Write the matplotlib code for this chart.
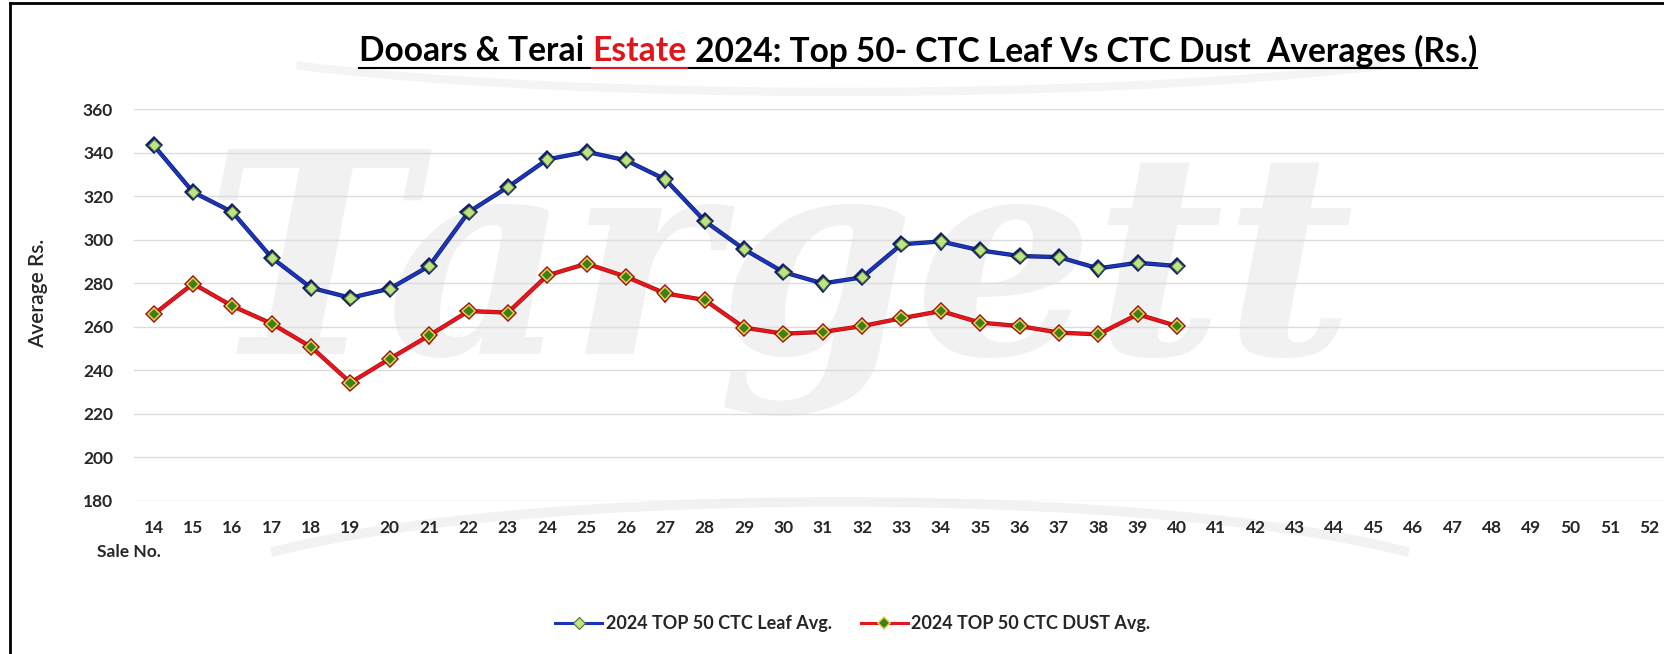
import matplotlib
matplotlib.use("Agg")
import matplotlib.pyplot as plt
import matplotlib.patheffects as pe
from matplotlib.lines import Line2D
from matplotlib.patches import Arc

# ---------------- data ----------------
sale_labels = [str(s) for s in range(14, 53)]
leaf_avg = [343.5, 322.0, 312.8, 291.8, 278.0, 273.4, 277.6, 288.0, 312.8, 324.3,
            337.0, 340.5, 336.6, 327.8, 308.7, 295.7, 285.2, 280.0, 282.8, 298.0,
            299.3, 295.2, 292.6, 292.1, 286.9, 289.5, 288.0]
dust_avg = [265.8, 279.9, 269.6, 261.5, 250.8, 234.4, 245.4, 256.1, 267.3, 266.6,
            283.7, 289.1, 283.1, 275.4, 272.4, 259.7, 256.9, 257.7, 260.4, 264.0,
            267.3, 262.0, 260.4, 257.4, 256.6, 265.8, 260.4]
yticks = [180, 200, 220, 240, 260, 280, 300, 320, 340, 360]
leaf_name = "2024 TOP 50 CTC Leaf Avg."
dust_name = "2024 TOP 50 CTC DUST Avg."

W, H = 1665, 654
FONT = "Lato"
plt.rcParams['font.family'] = [FONT, 'DejaVu Sans']

fig = plt.figure(figsize=(W / 100, H / 100), dpi=100)
fig.patch.set_facecolor("white")

def fx(px):
    return px / W

def fy(py):
    return 1 - py / H

# ---------------- watermark (drawn below everything) ----------------
wm = fig.text(fx(780), fy(280), "Targett", fontsize=200, family="DejaVu Serif",
              style="italic", weight="bold", color="#f1f1f1", ha="center",
              va="center", zorder=-5)
fig.canvas.draw()
r = fig.canvas.get_renderer()
bb = wm.get_window_extent(r)
wm.set_fontsize(200 * 1150 / bb.width)
fig.patches.append(Arc((fx(840), fy(600)), fx(1300), 0.30, theta1=12, theta2=168,
                       transform=fig.transFigure, color="#f2f2f2", lw=7, zorder=-5))
fig.patches.append(Arc((fx(840), fy(20)), fx(1400), 0.22, theta1=192, theta2=348,
                       transform=fig.transFigure, color="#f4f4f4", lw=6, zorder=-5))

# ---------------- axes ----------------
ax_left, ax_right = 134, 1669
ax_top, ax_bot = 109.4, 501
ax = fig.add_axes([fx(ax_left), fy(ax_bot), fx(ax_right - ax_left), (ax_bot - ax_top) / H])
ax.set_zorder(2)
ax.patch.set_alpha(0)

x_all = list(range(len(sale_labels)))
x_data = x_all[:len(leaf_avg)]

leaf_style = dict(color="#1c34b8", lw=2.2, marker="D", markersize=6.2,
                  markerfacecolor="#bde383", markeredgecolor="#50702e", markeredgewidth=0.8)
dust_style = dict(color="#e8161c", lw=2.2, marker="D", markersize=6.2,
                  markerfacecolor="#3f7f1a", markeredgecolor="#d9d64a", markeredgewidth=1.1)

ax.plot(x_data, leaf_avg, zorder=4, solid_joinstyle="round",
        path_effects=[pe.Stroke(linewidth=3.1, foreground="#0d1c6e"), pe.Normal()],
        **leaf_style)
ax.plot(x_data, dust_avg, zorder=4, solid_joinstyle="round",
        path_effects=[pe.Stroke(linewidth=3.1, foreground="#a01010"), pe.Normal()],
        **dust_style)

ax.set_xlim(-0.5, len(sale_labels) - 0.5)
ax.set_ylim(180, 360)
ax.set_yticks(yticks)
ax.set_yticklabels([str(v) for v in yticks])
ax.set_xticks(x_all)
ax.set_xticklabels(sale_labels)
ax.grid(axis="y", color="#dcdcdc", lw=1.0)
ax.set_axisbelow(True)
for s in ax.spines.values():
    s.set_visible(False)
ax.tick_params(axis="both", length=0, labelsize=12.5, colors="#262626")
ax.tick_params(axis="y", pad=15)
ax.tick_params(axis="x", pad=14)
for t in ax.get_xticklabels() + ax.get_yticklabels():
    t.set_fontweight("bold")

fig.text(fx(97), fy(552), "Sale No.", fontsize=12.5, weight="bold", color="#262626",
         ha="left", va="center")
fig.text(fx(38), fy(293), "Average Rs.", fontsize=15, weight="semibold", color="#262626",
         rotation=90, ha="center", va="center")

# ---------------- title ----------------
parts = [("Dooars & Terai ", "black"), ("Estate", "#e0161c"),
         (" 2024: Top 50- CTC Leaf Vs CTC Dust  Averages (Rs.)", "black")]
tsize = 22
texts = []
for s, c in parts:
    texts.append(fig.text(0, fy(51), s, fontsize=tsize, weight="bold", color=c,
                          ha="left", va="center"))
fig.canvas.draw()
widths = [t.get_window_extent(r).width for t in texts]
tsize *= 1115 / sum(widths)
for t in texts:
    t.set_fontsize(tsize)
fig.canvas.draw()
widths = [t.get_window_extent(r).width for t in texts]
total = sum(widths)
x0 = 918 - total / 2
cur = x0
for t, w in zip(texts, widths):
    t.set_x(fx(cur))
    cur += w
fig.add_artist(Line2D([fx(x0), fx(x0 + total)], [fy(68), fy(68)], color="black", lw=1.5,
                      transform=fig.transFigure))
fig.add_artist(Line2D([fx(x0 + widths[0]), fx(x0 + widths[0] + widths[1])], [fy(68), fy(68)],
                      color="#e0161c", lw=1.5, transform=fig.transFigure))

# ---------------- frame ----------------
fig.add_artist(Line2D([fx(10), fx(10)], [fy(3), 0], color="black", lw=2.0,
                      transform=fig.transFigure))
fig.add_artist(Line2D([fx(10), 1], [fy(3), fy(3)], color="black", lw=2.0,
                      transform=fig.transFigure))

# ---------------- legend ----------------
h1 = Line2D([], [], **leaf_style)
h2 = Line2D([], [], **dust_style)
leg = fig.legend([h1, h2], [leaf_name, dust_name], loc="center",
                 bbox_to_anchor=(fx(853), fy(624)), ncol=2, frameon=False,
                 fontsize=13, handlelength=2.6, handletextpad=0.2, columnspacing=1.6)
for t in leg.get_texts():
    t.set_fontweight("bold")
    t.set_color("#262626")

fig.savefig("out.png", dpi=100)
